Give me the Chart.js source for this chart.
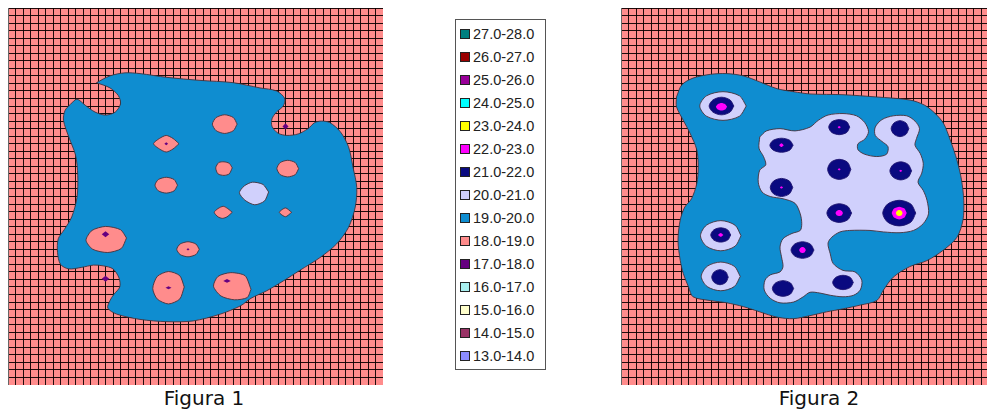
<!DOCTYPE html>
<html>
<head>
<meta charset="utf-8">
<script src="https://cdn.jsdelivr.net/npm/chart.js@4.4.1/dist/chart.umd.min.js"></script>
<style>
  html, body { margin: 0; padding: 0; background: #fff; }
  body { width: 987px; height: 412px; overflow: hidden; position: relative; }
  .panel { position: absolute; top: 8px; }
  .caption { position: absolute; top: 386px; width: 200px; text-align: center;
             font-family: "DejaVu Sans", Verdana, sans-serif; font-size: 20px; line-height: 24px; color: #111; }
  #legend { position: absolute; left: 455px; top: 19px; width: 91px; height: 351px; border: 1px solid #555;
            box-sizing: border-box; padding-top: 2px;
            font-family: "Liberation Sans", Arial, sans-serif; font-size: 14.5px; color: #222; }
  .item { height: 23px; display: flex; align-items: center; padding-left: 4px; }
  .swatch { width: 8px; height: 8px; border: 1px solid #222; margin-right: 3px; }
</style>
</head>
<body>
<canvas id="fig1" class="panel" style="left:8px" width="375" height="377"></canvas>
<div id="legend"></div>
<canvas id="fig2" class="panel" style="left:621px" width="375" height="377"></canvas>
<div class="caption" style="left:104px">Figura 1</div>
<div class="caption" style="left:719px">Figura 2</div>
<script>
// contour classes, top to bottom as in the legend
const levels = ['27.0-28.0', '26.0-27.0', '25.0-26.0', '24.0-25.0', '23.0-24.0', '22.0-23.0', '21.0-22.0',
  '20.0-21.0', '19.0-20.0', '18.0-19.0', '17.0-18.0', '16.0-17.0', '15.0-16.0', '14.0-15.0', '13.0-14.0'];
const levelColors = ['#008080', '#990000', '#990099', '#00ffff', '#ffff00', '#ff00ff', '#0a0a80',
  '#d0d0fc', '#0f8dd0', '#ff8c8c', '#660080', '#a8eeee', '#ffffcc', '#993366', '#8c8cff'];

const gridCells = 50;

// Figura 1 - contour outlines in grid units (x right, y down)
const fig1Blue = [[11.8,9.9],[13.6,9.0],[15.6,8.6],[17.6,8.7],[21.2,9.2],[25.6,9.6],[30.0,9.9],[33.6,10.6],
  [35.8,11.0],[36.9,12.0],[36.7,13.0],[35.8,13.8],[35.2,14.7],[35.2,15.7],[36.0,16.6],[37.2,16.9],[38.7,16.7],
  [40.0,16.0],[40.9,15.2],[41.8,15.0],[42.9,15.2],[44.3,16.4],[45.4,18.4],[46.0,21.1],[46.5,23.8],[46.3,26.4],
  [45.4,29.1],[43.8,31.3],[41.6,33.1],[38.9,34.8],[36.7,36.2],[34.5,37.5],[32.4,38.5],[31.0,39.5],[28.3,40.6],
  [24.7,41.5],[21.2,41.6],[17.6,41.3],[14.5,40.6],[13.3,39.8],[13.6,38.8],[14.1,38.0],[14.9,37.0],[14.8,35.8],
  [14.0,34.6],[12.7,34.2],[11.4,34.1],[9.8,34.4],[8.1,34.6],[7.0,34.0],[6.6,32.4],[6.7,30.6],[7.5,29.4],
  [8.5,27.7],[9.2,25.1],[9.3,22.2],[9.0,19.5],[8.1,17.1],[7.4,14.9],[7.6,13.6],[8.3,12.8],[9.2,12.1],
  [10.3,12.9],[11.6,13.8],[13.0,14.2],[14.3,13.8],[15.0,12.7],[14.7,11.6],[13.6,10.6]];
const fig1PinkHoles = [
  [[30.55,15.4],[30.05,16.27],[28.9,16.64],[27.75,16.27],[27.25,15.4],[27.75,14.53],[28.9,14.16],[30.05,14.53]],
  [[22.8,18.0],[22.0,18.7],[21.1,19.1],[20.2,18.7],[19.4,18.0],[20.2,17.3],[21.1,16.9],[22.0,17.3]],
  [[29.9,21.2],[29.5,22.0],[28.8,22.2],[28.0,22.0],[27.7,21.2],[28.1,20.5],[28.8,20.4],[29.5,20.6]],
  [[38.75,21.3],[38.3,22.1],[37.3,22.4],[36.3,22.1],[35.85,21.3],[36.3,20.5],[37.3,20.2],[38.3,20.5]],
  [[22.6,23.5],[22.15,24.25],[21.1,24.55],[20.05,24.25],[19.6,23.5],[20.05,22.75],[21.1,22.45],[22.15,22.75]],
  [[29.9,27.1],[29.2,27.7],[28.6,27.9],[28.0,27.7],[27.5,27.1],[28.0,26.6],[28.7,26.3],[29.3,26.6]],
  [[37.82,27.1],[37.0,27.68],[36.18,27.1],[37.0,26.52]],
  [[15.8,30.5],[15.1,31.9],[13.3,32.43],[11.3,32.0],[10.4,30.8],[11.2,29.5],[13.0,28.97],[15.0,29.4]],
  [[25.5,32.0],[25.05,32.7],[24.0,33.0],[22.95,32.7],[22.5,32.0],[22.95,31.3],[24.0,31.0],[25.05,31.3]],
  [[23.5,37.0],[22.9,38.6],[21.4,39.25],[19.9,38.6],[19.3,37.2],[19.9,35.6],[21.4,34.95],[22.9,35.5]],
  [[32.4,37.3],[31.9,38.4],[30.2,38.7],[28.4,38.2],[27.4,36.9],[28.0,35.6],[29.7,35.1],[31.6,35.5]]
];
const fig1Lavender = [
  [[34.75,24.4],[34.2,25.6],[32.9,26.1],[31.6,25.5],[30.85,24.5],[31.5,23.6],[32.6,23.1],[34.0,23.4]]
];
const fig1Purple = [
  [[37.4,15.7],[37.0,16.1],[36.6,15.7],[37.0,15.3]],
  [[21.35,18.0],[21.1,18.2],[20.85,18.0],[21.1,17.8]],
  [[13.5,30.0],[13.0,30.4],[12.5,30.0],[13.0,29.6]],
  [[13.5,35.9],[13.0,36.3],[12.5,35.9],[13.0,35.5]],
  [[21.8,37.1],[21.4,37.3],[21.0,37.1],[21.4,36.9]],
  [[29.7,36.2],[29.2,36.45],[28.7,36.2],[29.2,35.95]],
  [[24.2,32.0],[24.0,32.15],[23.8,32.0],[24.0,31.85]]
];

// Figura 2
const fig2Blue = [[7.4,11.8],[8.1,10.2],[9.6,9.3],[11.9,8.8],[14.1,8.7],[16.3,9.0],[18.5,9.8],[20.8,10.7],
  [23.0,11.1],[25.2,11.4],[29.6,11.5],[34.1,11.8],[38.5,12.2],[40.5,12.9],[41.9,14.0],[43.0,15.3],[43.9,17.5],
  [44.8,20.2],[45.4,22.8],[45.7,25.5],[45.6,28.1],[44.8,30.4],[43.0,32.1],[40.8,33.5],[38.5,34.3],[36.3,35.7],
  [35.0,37.4],[34.1,38.8],[31.9,39.4],[29.6,39.9],[27.4,40.3],[25.2,40.8],[23.0,41.2],[20.8,41.0],[18.5,40.3],
  [16.3,39.6],[14.1,39.1],[11.9,38.8],[9.6,38.3],[9.0,37.0],[8.3,35.2],[7.9,33.5],[7.6,30.8],[7.9,28.1],
  [8.5,26.4],[9.4,25.3],[10.1,23.3],[10.3,21.1],[10.1,18.8],[9.2,16.6],[8.3,14.9],[7.4,13.1]];
const fig2Lavender = [
  [[18.5,17.1],[19.4,16.3],[21.2,16.0],[23.2,16.3],[25.2,15.8],[26.3,14.9],[27.6,14.2],[29.6,14.0],[31.4,14.3],
   [32.5,15.2],[33.0,16.4],[32.5,17.4],[31.6,18.0],[31.6,18.8],[32.5,19.4],[34.1,19.7],[35.4,19.4],[35.6,18.4],
   [34.8,17.7],[33.9,16.9],[33.9,15.8],[34.8,14.8],[36.3,14.3],[38.1,14.3],[39.2,15.0],[39.8,16.0],[39.4,17.3],
   [39.2,18.2],[39.9,19.3],[40.3,20.6],[40.1,21.9],[39.6,23.1],[40.3,24.2],[40.8,25.5],[41.0,27.3],[40.3,28.6],
   [39.0,29.5],[37.2,29.8],[35.0,29.7],[33.2,29.5],[30.5,29.5],[29.2,29.7],[28.1,30.4],[27.6,31.2],[27.9,32.6],
   [28.3,33.9],[29.6,34.8],[31.2,35.0],[32.1,36.1],[31.9,37.4],[31.0,38.1],[29.6,38.3],[27.9,38.1],[26.5,37.8],
   [25.2,37.7],[24.3,38.3],[23.0,39.0],[21.2,39.1],[19.9,38.5],[19.1,37.4],[19.2,36.1],[19.9,35.4],[21.2,35.0],
   [21.6,34.3],[21.4,33.0],[21.2,31.7],[21.6,30.6],[22.8,29.9],[23.9,29.5],[24.1,28.6],[23.9,27.3],[23.2,25.9],
   [21.6,25.3],[19.9,25.0],[18.8,24.4],[18.3,23.1],[18.5,21.5],[19.3,20.8],[19.0,19.7],[18.4,18.6]],
  [[16.7,13.0],[15.8,14.35],[13.6,14.9],[11.4,14.35],[10.5,13.0],[11.4,11.65],[13.6,11.1],[15.8,11.65]],
  [[16.0,30.2],[15.2,31.6],[13.3,32.2],[11.4,31.6],[10.6,30.2],[11.4,28.8],[13.3,28.2],[15.2,28.8]],
  [[15.9,35.6],[15.1,36.95],[13.3,37.5],[11.5,36.95],[10.7,35.6],[11.5,34.25],[13.3,33.7],[15.1,34.25]]
];
const fig2Navy = [
  [[15.05,13.0],[14.55,13.8],[13.4,14.17],[12.25,13.8],[11.75,13.0],[12.25,12.2],[13.4,11.83],[14.55,12.2]],
  [[30.5,15.8],[30.1,16.5],[29.1,16.8],[28.1,16.5],[27.7,15.8],[28.1,15.1],[29.1,14.8],[30.1,15.1]],
  [[38.38,16.0],[38.0,16.75],[37.2,17.06],[36.4,16.75],[36.02,16.0],[36.4,15.25],[37.2,14.94],[38.0,15.25]],
  [[22.95,18.2],[22.5,18.85],[21.4,19.13],[20.3,18.85],[19.85,18.2],[20.3,17.55],[21.4,17.27],[22.5,17.55]],
  [[30.65,21.4],[30.2,22.35],[29.1,22.73],[28.0,22.35],[27.55,21.4],[28.0,20.45],[29.1,20.07],[30.2,20.45]],
  [[38.75,21.6],[38.3,22.45],[37.3,22.8],[36.3,22.45],[35.85,21.6],[36.3,20.75],[37.3,20.4],[38.3,20.75]],
  [[22.9,23.8],[22.45,24.65],[21.4,25.0],[20.35,24.65],[19.9,23.8],[20.35,22.95],[21.4,22.6],[22.45,22.95]],
  [[30.75,27.2],[30.25,28.07],[29.1,28.44],[27.95,28.07],[27.45,27.2],[27.95,26.33],[29.1,25.96],[30.25,26.33]],
  [[39.3,27.2],[38.65,28.4],[37.1,28.9],[35.55,28.4],[34.9,27.2],[35.55,26.0],[37.1,25.5],[38.65,26.0]],
  [[25.73,32.1],[25.27,32.87],[24.2,33.2],[23.13,32.87],[22.67,32.1],[23.13,31.33],[24.2,31.0],[25.27,31.33]],
  [[14.63,30.1],[14.23,30.77],[13.3,31.05],[12.37,30.77],[11.97,30.1],[12.37,29.43],[13.3,29.15],[14.23,29.43]],
  [[14.3,35.7],[13.97,36.4],[13.2,36.7],[12.43,36.4],[12.1,35.7],[12.43,35.0],[13.2,34.7],[13.97,35.0]],
  [[23.02,37.2],[22.6,37.93],[21.6,38.24],[20.6,37.93],[20.18,37.2],[20.6,36.47],[21.6,36.16],[22.6,36.47]],
  [[30.98,36.4],[30.57,37.07],[29.6,37.35],[28.63,37.07],[28.22,36.4],[28.63,35.73],[29.6,35.45],[30.57,35.73]]
];
const fig2Magenta = [
  [[14.15,13.1],[13.9,13.45],[13.4,13.6],[12.9,13.45],[12.65,13.1],[12.9,12.75],[13.4,12.6],[13.9,12.75]],
  [[21.7,18.2],[21.4,18.45],[21.1,18.2],[21.4,17.95]],
  [[29.6,27.2],[29.45,27.48],[29.1,27.6],[28.75,27.48],[28.6,27.2],[28.75,26.92],[29.1,26.8],[29.45,26.92]],
  [[38.1,27.2],[37.8,27.8],[37.1,28.05],[36.4,27.8],[36.1,27.2],[36.4,26.6],[37.1,26.35],[37.8,26.6]],
  [[24.65,32.1],[24.5,32.38],[24.2,32.5],[23.9,32.38],[23.75,32.1],[23.9,31.82],[24.2,31.7],[24.5,31.82]],
  [[13.65,30.1],[13.3,30.35],[12.95,30.1],[13.3,29.85]],
  [[29.3,15.8],[29.1,15.95],[28.9,15.8],[29.1,15.65]],
  [[29.3,21.4],[29.1,21.55],[28.9,21.4],[29.1,21.25]],
  [[37.5,21.6],[37.3,21.75],[37.1,21.6],[37.3,21.45]],
  [[21.6,23.8],[21.4,23.95],[21.2,23.8],[21.4,23.65]]
];
const fig2Yellow = [
  [[37.55,27.2],[37.42,27.48],[37.1,27.6],[36.78,27.48],[36.65,27.2],[36.78,26.92],[37.1,26.8],[37.42,26.92]]
];

function colorOf(label) { return levelColors[levels.indexOf(label)]; }

// chart area background = the lowest class shown on the maps
const areaFill = {
  id: 'areaFill',
  beforeDraw(chart, args, opts) {
    const { ctx, chartArea: a } = chart;
    ctx.save();
    ctx.fillStyle = opts.color;
    ctx.fillRect(a.left, a.top, a.right - a.left, a.bottom - a.top);
    ctx.restore();
  }
};

function buildDatasets(layers) {
  const sets = [];
  layers.forEach(layer => {
    layer.shapes.forEach(pts => {
      sets.push({
        data: pts.concat([pts[0]]).map(p => ({ x: p[0], y: p[1] })),
        backgroundColor: colorOf(layer.level),
        borderColor: layer.edge,
        borderWidth: layer.edge ? 1 : 0,
        fill: 'shape',
        tension: layer.tension,
        pointRadius: 0
      });
    });
  });
  // first layer drawn first, later layers on top
  sets.forEach((s, i) => { s.order = sets.length - i; });
  return sets;
}

function axis(reverse) {
  return {
    type: 'linear', min: 0, max: gridCells, reverse, z: 1,
    ticks: { display: false, stepSize: 1, autoSkip: false },
    grid: { color: 'rgba(12,0,0,0.92)', lineWidth: 1, drawTicks: false },
    border: { color: '#666', width: 1 }
  };
}

function drawMap(id, layers) {
  new Chart(document.getElementById(id), {
    type: 'line',
    data: { datasets: buildDatasets(layers) },
    options: {
      responsive: false, animation: false, events: [],
      layout: { padding: 0 },
      plugins: { legend: { display: false }, tooltip: { enabled: false }, areaFill: { color: colorOf('18.0-19.0') } },
      scales: { x: axis(false), y: axis(true) }
    },
    plugins: [areaFill]
  });
}

const edge = 'rgba(70,50,60,0.9)';
drawMap('fig1', [
  { shapes: [fig1Blue], level: '19.0-20.0', edge, tension: 0.3 },
  { shapes: fig1PinkHoles, level: '18.0-19.0', edge, tension: 0.25 },
  { shapes: fig1Lavender, level: '20.0-21.0', edge, tension: 0.25 },
  { shapes: fig1Purple, level: '17.0-18.0', edge: null, tension: 0 }
]);
drawMap('fig2', [
  { shapes: [fig2Blue], level: '19.0-20.0', edge, tension: 0.3 },
  { shapes: fig2Lavender, level: '20.0-21.0', edge, tension: 0.3 },
  { shapes: fig2Navy, level: '21.0-22.0', edge: 'rgba(30,20,110,0.9)', tension: 0.3 },
  { shapes: fig2Magenta, level: '22.0-23.0', edge: null, tension: 0.2 },
  { shapes: fig2Yellow, level: '23.0-24.0', edge: null, tension: 0.2 }
]);

// legend box
document.getElementById('legend').innerHTML = levels.map((lab, i) =>
  `<div class="item"><span class="swatch" style="background:${levelColors[i]}"></span>${lab}</div>`
).join('');
</script>
</body>
</html>
